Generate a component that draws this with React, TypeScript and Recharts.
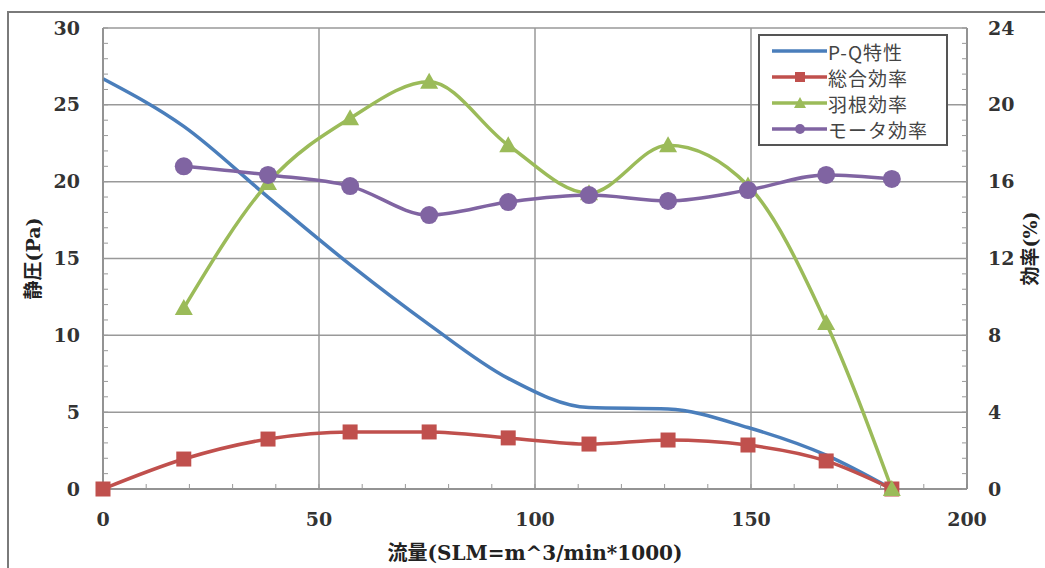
import { LineChart, Line, XAxis, YAxis, CartesianGrid, Legend } from 'recharts';

// flow rate (SLM = m^3/min * 1000)
const flow = [0, 18.7, 38.2, 57.2, 75.5, 93.8, 112.5, 130.8, 149.3, 167.4, 182.6];
// static pressure (Pa), left axis
const pq = [26.7, 23.6, 19.0, 14.6, 10.7, 7.2, 5.3, 5.2, 4.0, 2.2, 0];
// efficiencies (%), right axis
const total = [0, 1.56, 2.6, 2.97, 2.97, 2.66, 2.34, 2.55, 2.29, 1.46, 0];
const blade = [null, 9.42, 15.93, 19.3, 21.2, 17.9, 15.4, 17.9, 15.8, 8.64, 0];
const motor = [null, 16.8, 16.35, 15.77, 14.26, 14.94, 15.3, 15.0, 15.56, 16.35, 16.14];

const xTicks = [0, 50, 100, 150, 200];
const leftTicks = [0, 5, 10, 15, 20, 25, 30];
const rightTicks = [0, 4, 8, 12, 16, 20, 24];

// minor tick marks (Excel style, drawn inside the plot)
const minorX = Array.from({ length: 21 }, (_, i) => i * 10);
const minorLeft = Array.from({ length: 31 }, (_, i) => i);
const minorRight = Array.from({ length: 31 }, (_, i) => +(i * 0.8).toFixed(1));

const data = flow.map((f, i) => ({
  flow: f,
  pq: pq[i],
  total: total[i],
  blade: blade[i],
  motor: motor[i],
}));

const BLUE = '#4A7EBB';
const RED = '#C0504D';
const GREEN = '#9BBB59';
const PURPLE = '#8064A2';

const SERIF = "'DejaVu Serif', 'Liberation Serif', serif";
const titleStyle = {
  fontFamily: "'DejaVu Serif', 'Noto Sans CJK JP', serif",
  fontSize: 19,
  fontWeight: 'bold',
  fill: '#222',
};

const makeTick = (majors: number[], dy: string) => (props: any) => {
  const { x, y, payload, textAnchor, index } = props;
  const v = Number(payload.value);
  if (!majors.some((m) => Math.abs(m - v) < 1e-6)) return <g key={index} />;
  return (
    <text
      key={index}
      x={x}
      y={y}
      dy={dy}
      textAnchor={textAnchor}
      fill="#333"
      style={{ fontFamily: SERIF, fontSize: 19, fontWeight: 'bold' }}
    >
      {v}
    </text>
  );
};

const Square = (props: any) => {
  const { cx, cy } = props;
  if (cx == null || cy == null) return <g key={props.index} />;
  return <rect key={props.index} x={cx - 7.5} y={cy - 7.5} width={15} height={15} fill={RED} />;
};

const Triangle = (props: any) => {
  const { cx, cy } = props;
  if (cx == null || cy == null) return <g key={props.index} />;
  return <polygon key={props.index} points={`${cx},${cy - 9} ${cx - 9},${cy + 7} ${cx + 9},${cy + 7}`} fill={GREEN} />;
};

const Circle = (props: any) => {
  const { cx, cy } = props;
  if (cx == null || cy == null) return <g key={props.index} />;
  return <circle key={props.index} cx={cx} cy={cy} r={9} fill={PURPLE} />;
};

const legendItems = [
  { name: 'P-Q特性', color: BLUE, marker: 'none' },
  { name: '総合効率', color: RED, marker: 'square' },
  { name: '羽根効率', color: GREEN, marker: 'triangle' },
  { name: 'モータ効率', color: PURPLE, marker: 'circle' },
];

const LegendBox = () => (
  <div
    style={{
      border: '2px solid #555',
      background: '#fff',
      padding: '2px 4px 2px 12px',
      fontFamily: "'Noto Sans CJK JP', sans-serif",
      fontSize: 19,
      letterSpacing: 1,
      color: '#444',
    }}
  >
    {legendItems.map((it) => (
      <div key={it.name} style={{ display: 'flex', alignItems: 'center', height: 26 }}>
        <svg width={55} height={14} style={{ marginRight: 1, flex: 'none' }}>
          <line x1={0} y1={7} x2={55} y2={7} stroke={it.color} strokeWidth={3.5} />
          {it.marker === 'square' && <rect x={23} y={2} width={10} height={10} fill={it.color} />}
          {it.marker === 'triangle' && <polygon points="28,1 22,12 34,12" fill={it.color} />}
          {it.marker === 'circle' && <circle cx={28} cy={7} r={5} fill={it.color} />}
        </svg>
        <span style={{ whiteSpace: 'nowrap' }}>{it.name}</span>
      </div>
    ))}
  </div>
);

export default function App() {
  return (
    <div style={{ position: 'absolute', left: 0, top: 0, width: 1045, height: 568, overflow: 'hidden', background: '#fff' }}>
      <div
        style={{
          position: 'absolute',
          left: 7,
          top: 11,
          width: 1200,
          height: 700,
          border: '2px solid #7a7a7a',
        }}
      />
      <div style={{ position: 'absolute', left: 0, top: 0 }}>
        <LineChart width={1045} height={568} data={data} margin={{ top: 28, right: 18, bottom: 39, left: 0 }}>
          <CartesianGrid
            yAxisId="left"
            xAxisId="x"
            stroke="#999"
            strokeWidth={1.5}
            horizontalValues={leftTicks}
            verticalValues={xTicks}
          />
          <XAxis
            xAxisId="x"
            dataKey="flow"
            type="number"
            domain={[0, 200]}
            ticks={minorX}
            interval={0}
            tickSize={-5}
            tickMargin={29}
            height={40}
            axisLine={{ stroke: '#888', strokeWidth: 1.5 }}
            tickLine={{ stroke: '#999' }}
            tick={makeTick(xTicks, '0.71em')}
            label={{ value: '流量(SLM=m^3/min*1000)', position: 'bottom', offset: 17, style: { ...titleStyle, fontSize: 20 } }}
          />
          <YAxis
            yAxisId="left"
            type="number"
            domain={[0, 30]}
            ticks={minorLeft}
            interval={0}
            width={103}
            tickSize={-5}
            tickMargin={28}
            axisLine={{ stroke: '#888', strokeWidth: 1.5 }}
            tickLine={{ stroke: '#999' }}
            tick={makeTick(leftTicks, '0.35em')}
            label={{ value: '静圧(Pa)', angle: -90, position: 'center', dx: -18, style: titleStyle }}
          />
          <YAxis
            yAxisId="right"
            orientation="right"
            type="number"
            domain={[0, 24]}
            ticks={minorRight}
            interval={0}
            width={60}
            tickSize={-5}
            tickMargin={26}
            axisLine={{ stroke: '#888', strokeWidth: 1.5 }}
            tickLine={{ stroke: '#999' }}
            tick={makeTick(rightTicks, '0.35em')}
            label={{ value: '効率(%)', angle: -90, position: 'center', dx: 33, dy: -10, style: titleStyle }}
          />
          <Legend
            layout="vertical"
            align="center"
            verticalAlign="middle"
            wrapperStyle={{ position: 'absolute', left: 758, top: 34, width: 190 }}
            content={() => <LegendBox />}
          />
          <Line
            xAxisId="x"
            yAxisId="left"
            type="monotone"
            dataKey="pq"
            name="P-Q特性"
            stroke={BLUE}
            strokeWidth={3.5}
            dot={false}
            isAnimationActive={false}
          />
          <Line
            xAxisId="x"
            yAxisId="right"
            type="monotone"
            dataKey="total"
            name="総合効率"
            stroke={RED}
            strokeWidth={3.5}
            dot={Square}
            isAnimationActive={false}
          />
          <Line
            xAxisId="x"
            yAxisId="right"
            type="monotone"
            dataKey="blade"
            name="羽根効率"
            stroke={GREEN}
            strokeWidth={3.5}
            dot={Triangle}
            isAnimationActive={false}
          />
          <Line
            xAxisId="x"
            yAxisId="right"
            type="monotone"
            dataKey="motor"
            name="モータ効率"
            stroke={PURPLE}
            strokeWidth={3.5}
            dot={Circle}
            isAnimationActive={false}
          />
        </LineChart>
      </div>
    </div>
  );
}
